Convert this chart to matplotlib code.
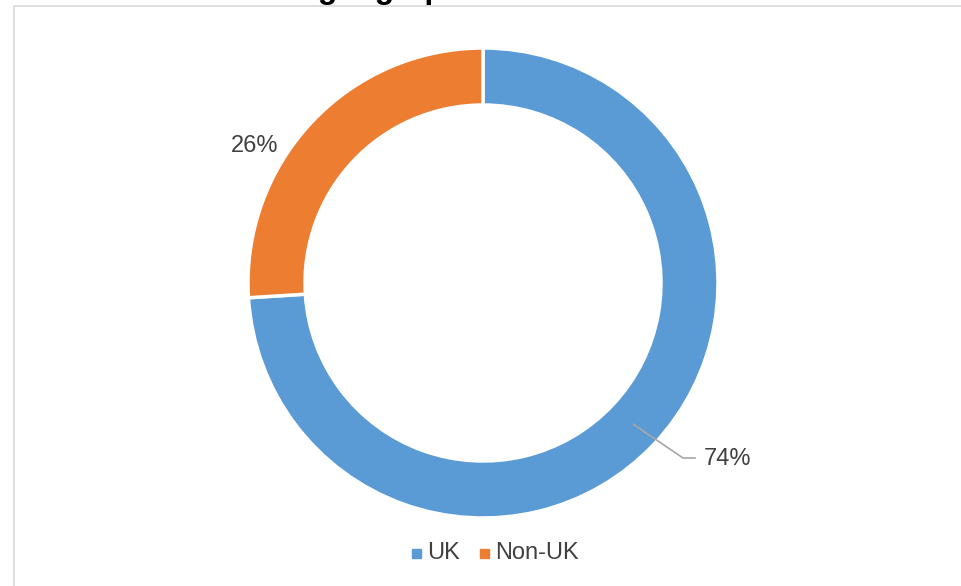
import numpy as np
import matplotlib
matplotlib.use("Agg")
import matplotlib.pyplot as plt
from matplotlib.patches import Rectangle

# Student origin split
categories = ["UK", "Non-UK"]
shares = [74, 26]
colors = ["#5B9BD5", "#ED7D31"]
title_text = "Student geographic location"

W, H = 962, 586
fig = plt.figure(figsize=(W / 100, H / 100), dpi=100)
ax = fig.add_axes([0, 0, 1, 1])
ax.set_xlim(0, W)
ax.set_ylim(0, H)
ax.set_aspect("equal")
ax.axis("off")

plt.rcParams["font.family"] = ["Liberation Sans", "DejaVu Sans"]

# chart area border (runs off the right/bottom edge)
ax.add_patch(Rectangle((14, -20), 1000, H - 6 + 20, fill=False,
                       edgecolor="#D9D9D9", linewidth=1.2))

# title sits mostly above the visible area
ax.text(190, H + 2, title_text, ha="left", va="baseline", fontsize=23,
        fontweight="bold", color="#000000", clip_on=False)

cx, cy = 483, H - 283
r_out, r_in = 235, 178
wedges, _ = ax.pie(shares, colors=colors, startangle=90, counterclock=False,
                   center=(cx, cy), radius=r_out,
                   wedgeprops=dict(width=r_out - r_in, edgecolor="white", linewidth=2.5))
ax.set_xlim(0, W)
ax.set_ylim(0, H)

label_color = "#404040"
# UK label with leader line from the ring middle
ang = np.deg2rad(90 - 360 * shares[0] / 100 / 2)
r_mid = (r_out + r_in) / 2
x0, y0 = cx + r_mid * np.cos(ang), cy + r_mid * np.sin(ang)
ax.plot([x0, 683, 695], [y0, H - 458, H - 458], color="#A6A6A6", linewidth=1.2)
ax.text(704, H - 459, f"{shares[0]}%", ha="left", va="center", fontsize=17,
        color=label_color)

# Non-UK label outside the slice
ax.text(255, H - 146, f"{shares[1]}%", ha="center", va="center", fontsize=17,
        color=label_color)

# legend
lx = [412, 480]
for x, name, c in zip(lx, categories, colors):
    ax.add_patch(Rectangle((x, H - 558), 9, 9, color=c))
    ax.text(x + 15, H - 553, name, ha="left", va="center", fontsize=17,
            color=label_color)

fig.savefig("out.png", dpi=100)
